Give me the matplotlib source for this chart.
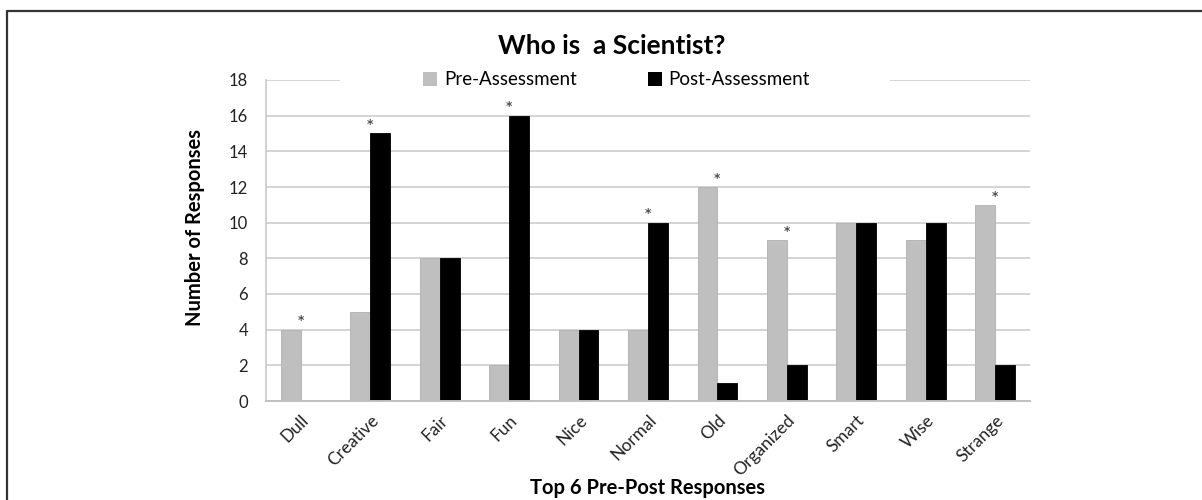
import matplotlib
matplotlib.use("Agg")
import matplotlib.pyplot as plt
from matplotlib.patches import Patch, Rectangle
from matplotlib.lines import Line2D
import numpy as np

plt.rcParams['font.family'] = ['Lato', 'DejaVu Sans']

categories = ['Dull', 'Creative', 'Fair', 'Fun', 'Nice', 'Normal', 'Old',
              'Organized', 'Smart', 'Wise', 'Strange']
pre = [4, 5, 8, 2, 4, 4, 12, 9, 10, 9, 11]
post = [0, 15, 8, 16, 4, 10, 1, 2, 10, 10, 2]
# categories with a significant pre/post change
starred = [True, True, False, True, False, True, True, True, False, False, True]

pre_color = '#bfbfbf'
post_color = '#000000'

fig = plt.figure(figsize=(12.02, 5.0), dpi=100)
ax = fig.add_axes([0.2213, 0.198, 0.6356, 0.642])

x = np.arange(len(categories))
w = 0.287
ax.bar(x - w / 2, pre, w, color=pre_color, edgecolor='#b0b0b0', linewidth=0.6, zorder=2)
ax.bar(x + w / 2, post, w, color=post_color, edgecolor='#000000', linewidth=0.6, zorder=2)

for i, s in enumerate(starred):
    if s:
        ax.annotate('*', (x[i], max(pre[i], post[i])), xytext=(0, -2),
                    textcoords='offset points', ha='center', va='bottom',
                    fontsize=14, color='#333333', zorder=4)

ax.set_xlim(-0.5, 10.5)
ax.set_ylim(0, 18)
ax.set_yticks(range(0, 19, 2))
ax.set_xticks(x)
ax.set_xticklabels(categories, rotation=45, ha='right', va='top',
                   rotation_mode='anchor', fontsize=12.5)
ax.tick_params(axis='y', length=0, pad=13, labelsize=12, labelcolor='#222222')
ax.tick_params(axis='x', length=0, pad=8, labelcolor='#222222')

ax.set_axisbelow(True)
ax.yaxis.grid(True, color='#d4d4d4', linewidth=1.4)
for side in ['top', 'right']:
    ax.spines[side].set_visible(False)
ax.spines['left'].set_color('#c8c8c8')
ax.spines['bottom'].set_color('#c0c0c0')
ax.spines['left'].set_linewidth(1.2)
ax.spines['bottom'].set_linewidth(1.4)

ax.set_ylabel('Number of Responses', fontsize=14.5, fontweight='bold')
ax.yaxis.set_label_coords(-0.08, 0.542)
ax.set_xlabel('Top 6 Pre-Post Responses', fontsize=14.5, fontweight='bold')
ax.xaxis.set_label_coords(0.5, -0.24)

# white band behind the legend breaks the top gridline
ax.add_patch(Rectangle((0.097, 0.975), 0.72, 0.05, transform=ax.transAxes,
                       facecolor='white', edgecolor='none', zorder=1.5, clip_on=False))
handles = [Patch(facecolor=pre_color, label='Pre-Assessment'),
           Patch(facecolor=post_color, label='Post-Assessment')]
ax.legend(handles=handles, loc='center', bbox_to_anchor=(0.459, 1.0), ncol=2,
          frameon=False, fontsize=13.5, handlelength=0.75, handleheight=0.75,
          handletextpad=0.35, columnspacing=3.8)

fig.text(0.509, 0.908, 'Who is  a Scientist?', ha='center', va='center',
         fontsize=19, fontweight='bold')

# outer frame
fig.add_artist(Line2D([7 / 1202, 7 / 1202, 1.0], [0.0, 1 - 11 / 500, 1 - 11 / 500],
                      transform=fig.transFigure, color='#333333', linewidth=1.6))

fig.savefig('out.png', dpi=100)
